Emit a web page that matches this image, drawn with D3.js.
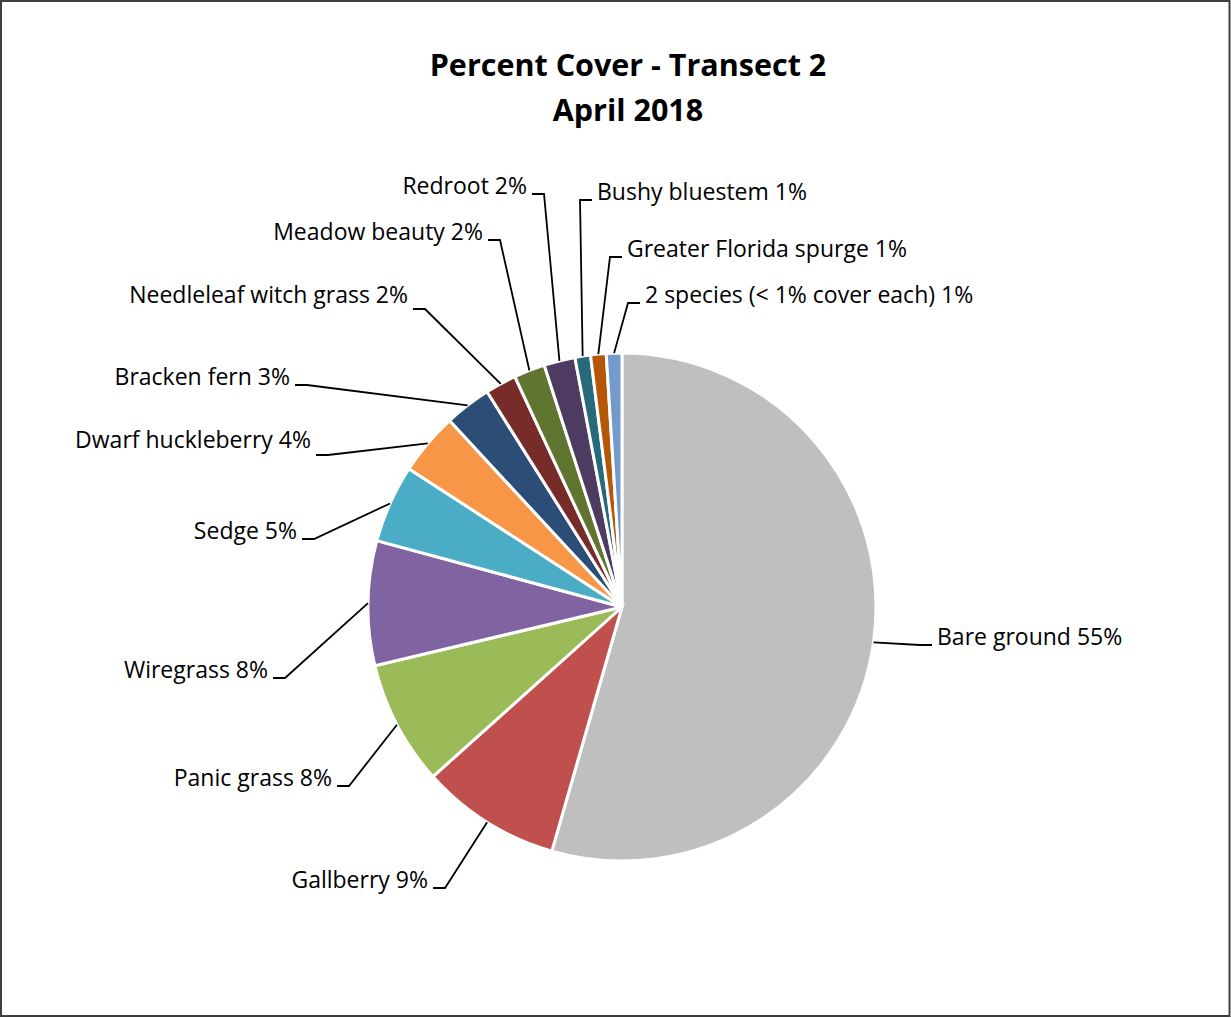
<!DOCTYPE html>
<html>
<head>
<meta charset="utf-8">
<script src="https://cdn.jsdelivr.net/npm/d3@7"></script>
<style>
  body { margin: 0; background: #fff; }
  text { font-family: "Open Sans", "Noto Sans", sans-serif; fill: #000; }
</style>
</head>
<body>
<div id="chart"></div>
<script>
const species = [
  'Bare ground', 'Gallberry', 'Panic grass', 'Wiregrass', 'Sedge',
  'Dwarf huckleberry', 'Bracken fern', 'Needleleaf witch grass',
  'Meadow beauty', 'Redroot', 'Bushy bluestem', 'Greater Florida spurge',
  '2 species (< 1% cover each)'
];
const cover = [55, 9, 8, 8, 5, 4, 3, 2, 2, 2, 1, 1, 1];
const colors = [
  '#bfbfbf', '#c0504d', '#9bbb59', '#8064a2', '#4bacc6', '#f79646',
  '#2c4d75', '#772c2a', '#5f7530', '#4d3b62', '#276a7c', '#b65708', '#729aca'
];
const titleLines = ['Percent Cover - Transect 2', 'April 2018'];

// label layout: anchor side, text x, baseline y, leader elbow offset
const labelPos = [
  ['start', 937, 645, 0], ['end', 428, 888, 0], ['end', 332, 786, 0],
  ['end', 268, 678, 0], ['end', 297, 539, 0], ['end', 311, 448, 7],
  ['end', 290, 385, 0], ['end', 408, 303, 6], ['end', 483, 240, 0],
  ['end', 527, 194, 0], ['start', 597, 200, 0], ['start', 627, 257, 0],
  ['start', 645, 303, 0]
];

const options = { width: 1231, height: 1018 };
const pieSettings = { cx: 622, cy: 607, radius: 254 };

const svg = d3.select('#chart')
  .append('svg')
  .attr('width', options.width)
  .attr('height', options.height);

svg.append('rect')
  .attr('x', 1)
  .attr('y', 1)
  .attr('width', options.width - 2.5)
  .attr('height', options.height - 3)
  .attr('fill', '#fff')
  .attr('stroke', '#3f3f3f')
  .attr('stroke-width', 2);

svg.append('text')
  .attr('text-anchor', 'middle')
  .attr('font-weight', 'bold')
  .attr('font-size', '30.5px')
  .selectAll('tspan')
  .data(titleLines)
  .enter()
  .append('tspan')
  .attr('x', 628)
  .attr('y', (d, i) => 76 + i * 45)
  .text(d => d);

const data = species.map((name, i) => ({ name, value: cover[i], color: colors[i] }));

const pie = d3.pie()
  .sort(null)
  .value(d => d.value);

const arc = d3.arc()
  .innerRadius(0)
  .outerRadius(pieSettings.radius);

const edge = d3.arc()
  .innerRadius(pieSettings.radius)
  .outerRadius(pieSettings.radius);

const g = svg.append('g')
  .attr('transform', `translate(${pieSettings.cx},${pieSettings.cy})`);

const arcs = pie(data);

g.selectAll('path')
  .data(arcs)
  .enter()
  .append('path')
  .attr('d', arc)
  .attr('fill', d => d.data.color)
  .attr('stroke', '#fff')
  .attr('stroke-width', 3);

// leader lines
const gap = 5, elbow = 12;
svg.append('g')
  .selectAll('polyline')
  .data(arcs)
  .enter()
  .append('polyline')
  .attr('fill', 'none')
  .attr('stroke', '#000')
  .attr('stroke-width', 1.8)
  .attr('points', (d, i) => {
    const [side, x, y, dy] = labelPos[i];
    const [px, py] = edge.centroid(d);
    const dir = side === 'start' ? -1 : 1;
    const ly = y + dy;
    return [
      [px + pieSettings.cx, py + pieSettings.cy],
      [x + dir * (gap + elbow), ly],
      [x + dir * gap, ly]
    ].map(p => p.join(',')).join(' ');
  });

svg.append('g')
  .selectAll('text')
  .data(arcs)
  .enter()
  .append('text')
  .attr('font-size', '23px')
  .attr('text-anchor', (d, i) => labelPos[i][0])
  .attr('x', (d, i) => labelPos[i][1])
  .attr('y', (d, i) => labelPos[i][2])
  .text(d => `${d.data.name} ${d.data.value}%`);
</script>
</body>
</html>
